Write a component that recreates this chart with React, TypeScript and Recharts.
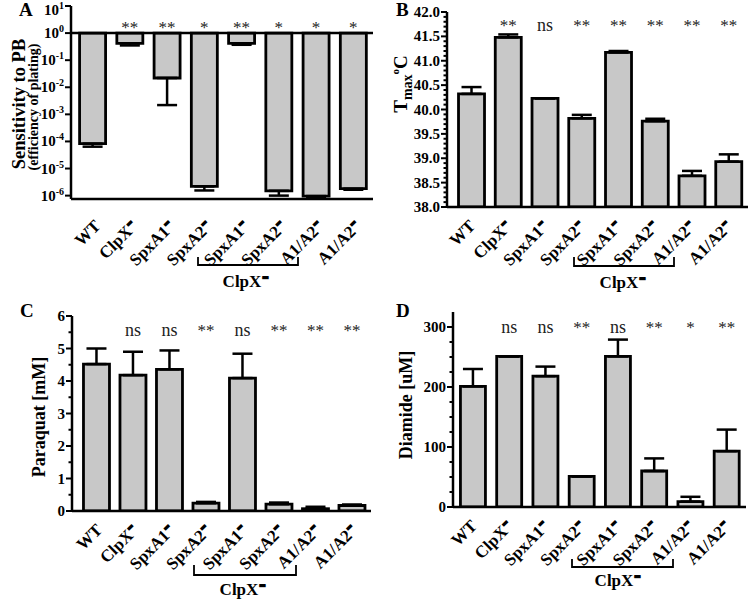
import React from "react";
import { BarChart, Bar, XAxis, YAxis, ReferenceLine, LabelList, ErrorBar } from "recharts";

const FONT = "'Liberation Serif', 'Times New Roman', serif";

// strains, left to right (the 5th-7th are in the ClpX- background)
const strains = ["WT", "ClpX", "SpxA1", "SpxA2", "SpxA1", "SpxA2", "A1/A2", "A1/A2"];
const mutant = [false, true, true, true, true, true, true, true];

// A: sensitivity to PB (efficiency of plating), bars hang from 10^0
const pbValues = [8.3e-5, 0.42, 0.022, 2.2e-6, 0.42, 1.5e-6, 9.6e-7, 1.8e-6];
const pbErrLow = [6.4e-5, 0.35, 0.0022, 1.55e-6, 0.37, 1.0e-6, 8.8e-7, 1.65e-6];
const pbSig = ["", "**", "**", "*", "**", "*", "*", "*"];
const pbTicks = [10, 1, 0.1, 0.01, 0.001, 1e-4, 1e-5, 1e-6];

// B: Tmax
const tmaxValues = [40.32, 41.48, 40.23, 39.82, 41.17, 39.76, 38.64, 38.93];
const tmaxErr = [0.14, 0.06, 0, 0.07, 0.03, 0.05, 0.1, 0.15];
const tmaxSig = ["", "**", "ns", "**", "**", "**", "**", "**"];

// C: paraquat
const pqValues = [4.52, 4.18, 4.36, 0.24, 4.09, 0.21, 0.07, 0.17];
const pqErr = [0.48, 0.72, 0.58, 0.04, 0.75, 0.05, 0.06, 0.03];
const pqSig = ["", "ns", "ns", "**", "ns", "**", "**", "**"];

// D: diamide
const diaValues = [201, 251, 218, 51, 251, 60, 9, 93];
const diaErr = [29, 0, 16, 0, 28, 21, 8, 36];
const diaSig = ["", "ns", "ns", "**", "ns", "**", "*", "**"];

const range = (a: number, b: number, s: number) => {
  const out: number[] = [];
  for (let v = a; v <= b + 1e-9; v += s) out.push(Math.round(v * 1000) / 1000);
  return out;
};

// range bars from 10^0 down to the value, error only below
const pbRows = strains.map((_, i) => ({
  k: i,
  bar: [1, pbValues[i]],
  err: [pbValues[i] - pbErrLow[i], 0],
  sig: pbSig[i],
}));
const upRows = (vals: number[], errs: number[], sigs: string[]) =>
  strains.map((_, i) => ({ k: i, bar: vals[i], err: [0, errs[i]], sig: sigs[i] }));

const makeStrainTick = (dx: number, dy: number) => (props: any) => {
  const { x, y, payload } = props;
  const i = payload.value;
  return (
    <g transform={`translate(${x + dx},${y + dy}) rotate(-45)`}>
      <text textAnchor="end" fontFamily={FONT} fontWeight="bold" fontSize={17} fill="#000">
        {strains[i]}
        {mutant[i] && (
          <tspan dy={-7} fontSize={8.5} fontFamily="DejaVu Sans">▬</tspan>
        )}
      </text>
    </g>
  );
};

const makeYTick = (isMajor: (v: number) => boolean, fmt: (v: number) => React.ReactNode, minY = 0) =>
  (props: any) => {
    const { x, y, payload } = props;
    const v = payload.value;
    const major = isMajor(v);
    const len = major ? 6 : 3.5;
    return (
      <g>
        <line x1={x} x2={x - len} y1={y} y2={y} stroke="#000" strokeWidth={2} />
        {major && (
          <text x={x - len - 1} y={Math.max(y, minY)} dy={5} textAnchor="end" fontFamily={FONT}
            fontWeight="bold" fontSize={15} fill="#000">
            {fmt(v)}
          </text>
        )}
      </g>
    );
  };

const logTick = makeYTick(
  () => true,
  (v) => {
    const e = Math.round(Math.log10(v));
    return (
      <>
        10<tspan dy={-6} fontSize={10}>{e}</tspan>
      </>
    );
  },
  10
);
const tmaxTick = makeYTick((v) => Math.abs(v * 2 - Math.round(v * 2)) < 1e-6, (v) => v.toFixed(1));
const pqTick = makeYTick((v) => Math.abs(v - Math.round(v)) < 1e-6, (v) => String(v));
const diaTick = makeYTick((v) => v % 100 === 0, (v) => String(v));

const sigContent = (baseY: number) => (p: any) => {
  const { x, width, value } = p;
  if (!value) return null;
  const star = String(value).includes("*");
  return (
    <text x={x + width / 2} y={baseY} textAnchor="middle" fontFamily={FONT}
      fontSize={star ? 17 : 18} fill="#222">
      {value}
    </text>
  );
};

const axisLine = { stroke: "#000", strokeWidth: 2.5 };

type PanelProps = {
  rows: any[];
  margin: { top: number; right: number; left: number; bottom: number };
  yWidth: number;
  xHeight: number;
  yAxis: any;
  tick: any;
  xTick: any;
  sigY: number;
  padLeft: number;
  refOne?: boolean;
};

function Panel(p: PanelProps) {
  return (
    <BarChart width={375} height={300} data={p.rows} margin={p.margin} barCategoryGap="15%">
      <XAxis dataKey="k" interval={0} height={p.xHeight} tick={p.xTick}
        tickLine={false} axisLine={axisLine} padding={{ left: p.padLeft, right: 1 }} />
      <XAxis dataKey="k" xAxisId="top" orientation="top" height={0} tick={false}
        tickLine={false} axisLine={axisLine} />
      <YAxis width={p.yWidth} tick={p.tick} tickSize={0} tickMargin={0} tickLine={false}
        axisLine={axisLine} interval={0} {...p.yAxis} />
      <YAxis yAxisId="r" orientation="right" width={0} tick={false} tickLine={false}
        axisLine={axisLine} />
      {p.refOne && <ReferenceLine y={1} stroke="#000" strokeWidth={2.5} />}
      <Bar dataKey="bar" fill="#c8c8c8" stroke="#000" strokeWidth={2.8} isAnimationActive={false}>
        <ErrorBar dataKey="err" direction="y" width={10} stroke="#000" strokeWidth={2.5}
          isAnimationActive={false} />
        <LabelList dataKey="sig" content={sigContent(p.sigY)} />
      </Bar>
    </BarChart>
  );
}

const txt = { fontFamily: FONT, fontWeight: "bold" as const, fill: "#000" };

function Overlay({ letter, letterX, letterY, bracket, children }: any) {
  const [x1, x2, yTop, yBot, tx, ty] = bracket;
  return (
    <svg width={375} height={300} style={{ position: "absolute", left: 0, top: 0, pointerEvents: "none" }}>
      <text x={letterX} y={letterY} fontSize={19} {...txt}>{letter}</text>
      {children}
      <path d={`M${x1},${yTop} V${yBot} H${x2} V${yTop}`} fill="none" stroke="#000" strokeWidth={1.8} />
      <text x={tx} y={ty} textAnchor="middle" fontSize={17} {...txt}>
        ClpX<tspan dy={-7} fontSize={8.5} fontFamily="DejaVu Sans">▬</tspan>
      </text>
    </svg>
  );
}

const cell = (left: number, top: number) => ({
  position: "absolute" as const, left, top, width: 375, height: 300,
});

export default function App() {
  return (
    <div style={{ position: "absolute", left: 0, top: 0, width: 750, height: 600, background: "#fff" }}>
      <div style={cell(0, 0)}>
        <Panel rows={pbRows} margin={{ top: 6, right: 2, left: 0, bottom: 0 }} yWidth={71}
          xHeight={101} tick={logTick} xTick={makeStrainTick(9, 20)} sigY={33} padLeft={3} refOne
          yAxis={{ scale: "log", domain: [7.5e-7, 10], ticks: pbTicks, allowDataOverflow: true }} />
        <Overlay letter="A" letterX={19} letterY={16} bracket={[198, 298, 257, 265, 246, 287]}>
          <text transform="translate(25,104) rotate(-90)" textAnchor="middle" fontSize={18.5} {...txt}>
            Sensitivity to PB
          </text>
          <text transform="translate(38,107) rotate(-90)" textAnchor="middle" fontSize={14} {...txt}>
            (efficiency of plating)
          </text>
        </Overlay>
      </div>
      <div style={cell(375, 0)}>
        <Panel rows={upRows(tmaxValues, tmaxErr, tmaxSig)} margin={{ top: 12, right: 2, left: 0, bottom: 0 }}
          yWidth={72} xHeight={93} tick={tmaxTick} xTick={makeStrainTick(5, 12)} sigY={31} padLeft={6}
          yAxis={{ domain: [38, 42], ticks: range(38, 42, 0.1), allowDataOverflow: true }} />
        <Overlay letter="B" letterX={21} letterY={16} bracket={[199, 299, 257, 266, 248, 288]}>
          <text transform="translate(32,84) rotate(-90)" textAnchor="middle" fontSize={19} {...txt}>
            T<tspan dy={5} fontSize={14}>max</tspan><tspan dy={-13} fontSize={11}>o</tspan><tspan dy={8}>C</tspan>
          </text>
        </Overlay>
      </div>
      <div style={cell(0, 300)}>
        <Panel rows={upRows(pqValues, pqErr, pqSig)} margin={{ top: 16, right: 4, left: 0, bottom: 0 }}
          yWidth={72} xHeight={89} tick={pqTick} xTick={makeStrainTick(7, 12)} sigY={36} padLeft={6}
          yAxis={{ domain: [0, 6], ticks: range(0, 6, 0.5), allowDataOverflow: true }} />
        <Overlay letter="C" letterX={20} letterY={17} bracket={[194, 296, 265, 275, 243, 295]}>
          <text transform="translate(45,117) rotate(-90)" textAnchor="middle" fontSize={18} {...txt}>
            Paraquat [mM]
          </text>
        </Overlay>
      </div>
      <div style={cell(375, 300)}>
        <Panel rows={upRows(diaValues, diaErr, diaSig)} margin={{ top: 12, right: 4, left: 0, bottom: 0 }}
          yWidth={78} xHeight={93} tick={diaTick} xTick={makeStrainTick(5, 12)} sigY={33} padLeft={2}
          yAxis={{ domain: [0, 325], ticks: range(0, 300, 25), allowDataOverflow: true }} />
        <Overlay letter="D" letterX={21} letterY={17} bracket={[197, 298, 259, 267, 243, 286]}>
          <text transform="translate(37,105) rotate(-90)" textAnchor="middle" fontSize={18} {...txt}>
            Diamide [uM]
          </text>
        </Overlay>
      </div>
    </div>
  );
}
